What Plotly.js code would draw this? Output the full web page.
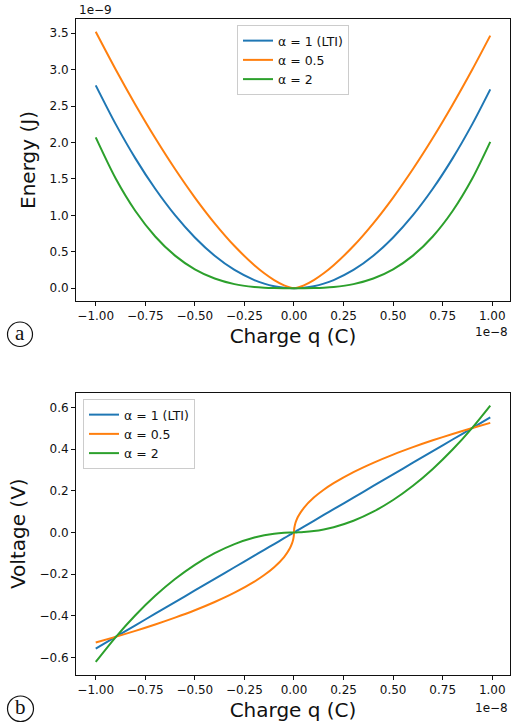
<!DOCTYPE html>
<html>
<head>
<meta charset="utf-8">
<script src="https://cdn.plot.ly/plotly-3.0.1.min.js"></script>
<style>html,body{margin:0;padding:0;background:#fff;}#chart{width:511px;height:728px;}</style>
</head>
<body>
<div id="chart"></div>
<script>
// Charge q in units of 1e-8 C
const charge = [-1.0, -0.9, -0.8, -0.7, -0.6, -0.5, -0.4, -0.3, -0.2, -0.15, -0.1, -0.05, -0.02, -0.01, -0.005, -0.002, -0.0005, 0, 0.0005, 0.002, 0.005, 0.01, 0.02, 0.05, 0.1, 0.15, 0.2, 0.3, 0.4, 0.5, 0.6, 0.7, 0.8, 0.9, 0.99];

// Energy in units of 1e-9 J
const energyAlpha1 = [2.785, 2.2559, 1.7824, 1.3647, 1.0026, 0.6963, 0.4456, 0.2507, 0.1114, 0.0627, 0.0279, 0.0070, 0.0011, 0.0003, 0.0001, 0, 0, 0, 0, 0, 0.0001, 0.0003, 0.0011, 0.0070, 0.0279, 0.0627, 0.1114, 0.2507, 0.4456, 0.6963, 1.0026, 1.3647, 1.7824, 2.2559, 2.7296];
const energyAlpha05 = [3.52, 3.0054, 2.5187, 2.0615, 1.6360, 1.2445, 0.8905, 0.5784, 0.3148, 0.2045, 0.1113, 0.0394, 0.0100, 0.0035, 0.0012, 0.0003, 0.0000, 0, 0.0000, 0.0003, 0.0012, 0.0035, 0.0100, 0.0394, 0.1113, 0.2045, 0.3148, 0.5784, 0.8905, 1.2445, 1.6360, 2.0615, 2.5187, 3.0054, 3.4673];
const energyAlpha2 = [2.07, 1.5090, 1.0598, 0.7100, 0.4471, 0.2588, 0.1325, 0.0559, 0.0166, 0.0070, 0.0021, 0.0003, 0, 0, 0, 0, 0, 0, 0, 0, 0, 0, 0, 0.0003, 0.0021, 0.0070, 0.0166, 0.0559, 0.1325, 0.2588, 0.4471, 0.7100, 1.0598, 1.5090, 2.0085];

// Voltage in V
const voltageAlpha1 = [-0.557, -0.5013, -0.4456, -0.3899, -0.3342, -0.2785, -0.2228, -0.1671, -0.1114, -0.0836, -0.0557, -0.0279, -0.0111, -0.0056, -0.0028, -0.0011, -0.0003, 0, 0.0003, 0.0011, 0.0028, 0.0056, 0.0111, 0.0279, 0.0557, 0.0836, 0.1114, 0.1671, 0.2228, 0.2785, 0.3342, 0.3899, 0.4456, 0.5013, 0.5514];
const voltageAlpha05 = [-0.528, -0.5009, -0.4723, -0.4418, -0.4090, -0.3734, -0.3339, -0.2892, -0.2361, -0.2045, -0.1670, -0.1181, -0.0747, -0.0528, -0.0373, -0.0236, -0.0118, 0, 0.0118, 0.0236, 0.0373, 0.0528, 0.0747, 0.1181, 0.1670, 0.2045, 0.2361, 0.2892, 0.3339, 0.3734, 0.4090, 0.4418, 0.4723, 0.5009, 0.5254];
const voltageAlpha2 = [-0.621, -0.5030, -0.3974, -0.3043, -0.2236, -0.1553, -0.0994, -0.0559, -0.0248, -0.0140, -0.0062, -0.0016, -0.0002, -0.0001, 0, 0, 0, 0, 0, 0, 0, 0.0001, 0.0002, 0.0016, 0.0062, 0.0140, 0.0248, 0.0559, 0.0994, 0.1553, 0.2236, 0.3043, 0.3974, 0.5030, 0.6086];

const seriesNames = ['α = 1 (LTI)', 'α = 0.5', 'α = 2'];
const colors = ['#1f77b4', '#ff7f0e', '#2ca02c'];

const xTicks = [-1.0, -0.75, -0.5, -0.25, 0, 0.25, 0.5, 0.75, 1.0];
const energyTicks = [0, 0.5, 1.0, 1.5, 2.0, 2.5, 3.0, 3.5];
const voltageTicks = [-0.6, -0.4, -0.2, 0, 0.2, 0.4, 0.6];

const energies = [energyAlpha1, energyAlpha05, energyAlpha2];
const voltages = [voltageAlpha1, voltageAlpha05, voltageAlpha2];

const traces = [];
energies.forEach((e, i) => traces.push({
  x: charge, y: e, type: 'scatter', mode: 'lines', name: seriesNames[i],
  line: {color: colors[i], width: 2, shape: 'spline', smoothing: 0.8}, xaxis: 'x', yaxis: 'y', legend: 'legend'
}));
voltages.forEach((v, i) => traces.push({
  x: charge, y: v, type: 'scatter', mode: 'lines', name: seriesNames[i],
  line: {color: colors[i], width: 2, shape: 'spline', smoothing: 0.8}, xaxis: 'x2', yaxis: 'y2', legend: 'legend2'
}));

const W = 511, H = 728;
const font = 'DejaVu Sans, sans-serif';
const tickFont = {family: font, size: 12, color: '#111'};
const titleFont = {family: font, size: 20, color: '#111'};

function xAxis(anchor) {
  return {
    domain: [76 / W, 510 / W], range: [-1.0995, 1.0895], anchor: anchor,
    tickvals: xTicks, tickformat: '.2f', ticks: 'outside', ticklen: 4, tickwidth: 1, tickcolor: '#111',
    showline: true, mirror: true, linecolor: '#111', linewidth: 1, showgrid: false, zeroline: false,
    tickfont: tickFont, title: {text: 'Charge q (C)', font: titleFont, standoff: 6}
  };
}
function yAxis(anchor, dom, rng, vals, title) {
  return {
    domain: dom, range: rng, anchor: anchor,
    tickvals: vals, tickformat: '.1f', ticks: 'outside', ticklen: 4, tickwidth: 1, tickcolor: '#111',
    showline: true, mirror: true, linecolor: '#111', linewidth: 1, showgrid: false, zeroline: false,
    tickfont: tickFont, title: {text: title, font: titleFont, standoff: 8}
  };
}

const layout = {
  width: W, height: H,
  margin: {l: 0, r: 0, t: 0, b: 0},
  paper_bgcolor: '#fff', plot_bgcolor: '#fff',
  showlegend: true,
  xaxis: xAxis('y'),
  yaxis: yAxis('x', [1 - 301 / H, 1 - 19 / H], [-0.176, 3.696], energyTicks, 'Energy (J)'),
  xaxis2: xAxis('y2'),
  yaxis2: yAxis('x2', [1 - 674.7 / H, 1 - 392.7 / H], [-0.6825, 0.6701], voltageTicks, 'Voltage (V)'),
  legend: {
    x: 293 / W, xanchor: 'center', y: 1 - 25 / H, yanchor: 'top',
    bgcolor: 'rgba(255,255,255,0.8)', bordercolor: '#cccccc', borderwidth: 1,
    font: {family: font, size: 12.5, color: '#111'}, tracegroupgap: 0
  },
  legend2: {
    x: 83 / W, xanchor: 'left', y: 1 - 399 / H, yanchor: 'top',
    bgcolor: 'rgba(255,255,255,0.8)', bordercolor: '#cccccc', borderwidth: 1,
    font: {family: font, size: 12.5, color: '#111'}, tracegroupgap: 0
  },
  annotations: [
    {xref: 'paper', yref: 'paper', x: 77 / W, y: 1 - 10 / H, xanchor: 'left', yanchor: 'middle',
     text: '1e−9', showarrow: false, font: {family: font, size: 12, color: '#111'}},
    {xref: 'paper', yref: 'paper', x: 510 / W, y: 1 - 332 / H, xanchor: 'right', yanchor: 'middle',
     text: '1e−8', showarrow: false, font: {family: font, size: 12, color: '#111'}},
    {xref: 'paper', yref: 'paper', x: 510 / W, y: 1 - 708 / H, xanchor: 'right', yanchor: 'middle',
     text: '1e−8', showarrow: false, font: {family: font, size: 12, color: '#111'}},
    {xref: 'paper', yref: 'paper', x: 20 / W, y: 1 - 333 / H, xanchor: 'center', yanchor: 'middle',
     text: 'a', showarrow: false, font: {family: 'Liberation Serif, serif', size: 21, color: '#111'}},
    {xref: 'paper', yref: 'paper', x: 20.5 / W, y: 1 - 707 / H, xanchor: 'center', yanchor: 'middle',
     text: 'b', showarrow: false, font: {family: 'Liberation Serif, serif', size: 21, color: '#111'}}
  ],
  shapes: [
    {type: 'circle', xref: 'paper', yref: 'paper', x0: 7.5 / W, x1: 32.5 / W, y0: 1 - 346.5 / H, y1: 1 - 322 / H,
     line: {color: '#111', width: 1.2}},
    {type: 'circle', xref: 'paper', yref: 'paper', x0: 7.5 / W, x1: 33.5 / W, y0: 1 - 721.5 / H, y1: 1 - 696 / H,
     line: {color: '#111', width: 1.2}}
  ]
};

Plotly.newPlot('chart', traces, layout, {displayModeBar: false, staticPlot: true});
</script>
</body>
</html>
